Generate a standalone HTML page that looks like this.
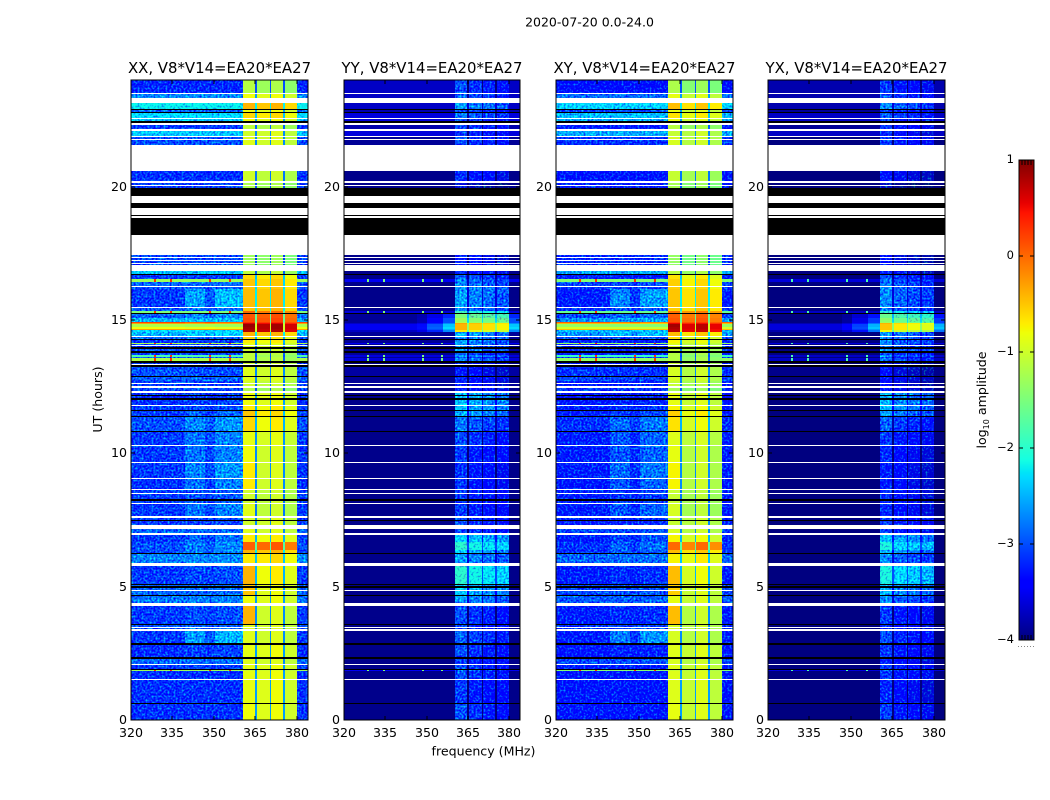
<!DOCTYPE html>
<html>
<head>
<meta charset="utf-8">
<title>2020-07-20 0.0-24.0</title>
<style>
html,body{margin:0;padding:0;background:#fff;}
svg{display:block;}
text{font-family:"DejaVu Sans","Liberation Sans",sans-serif;fill:#000;}
</style>
</head>
<body>
<svg id="fig" xmlns="http://www.w3.org/2000/svg" width="1050" height="800" viewBox="0 0 1050 800">
<defs>
<filter id="speckle" x="0" y="0" width="100%" height="100%" color-interpolation-filters="sRGB">
<feTurbulence type="fractalNoise" baseFrequency="0.5" numOctaves="1" seed="4" result="raw"/>
<feColorMatrix in="raw" type="matrix" values="0 0 0 0 0.5  0 0 0 1.7 -0.35  0 0 0 0 0.5  0 0 0 0 1" result="grain"/>
<feComposite in="SourceGraphic" in2="grain" operator="arithmetic" k1="0" k2="1" k3="1" k4="-0.5" result="mixed"/>
<feComposite in="mixed" in2="SourceAlpha" operator="in"/>
</filter>
</defs>
<rect x="0" y="0" width="1050" height="800" fill="#fff"/>
<text x="589.5" y="26.5" font-size="12.5" text-anchor="middle">2020-07-20 0.0-24.0</text>
<text x="483.5" y="755.5" font-size="12.6" text-anchor="middle">frequency (MHz)</text>
<text x="102" y="399.5" font-size="12.6" text-anchor="middle" transform="rotate(-90 102 399.5)">UT (hours)</text>
<text x="986" y="400" font-size="12.6" text-anchor="middle" transform="rotate(-90 986 400)">log<tspan font-size="8" dy="3">10</tspan><tspan dy="-3"> amplitude</tspan></text>
<g id="panels"></g>
<g id="cbar"></g>
</svg>
<script>
// ---- chart data (UT band upper edges in hours, levels in log10 amplitude) ----
const bandTops = [
0.60,0.64,1.49,1.54,1.71,1.74,1.82,1.89,1.93,2.06,
2.11,2.29,2.35,2.82,2.87,3.33,3.40,3.45,3.49,3.55,
3.59,4.28,4.38,4.65,4.69,4.84,4.88,4.96,5.03,5.06,
5.10,5.78,5.90,6.23,6.25,6.38,6.68,6.94,7.03,7.18,
7.31,7.45,7.50,7.56,7.65,8.11,8.15,8.22,8.28,8.48,
8.51,8.63,8.66,9.04,9.08,9.64,9.68,10.28,10.31,10.80,
10.84,11.36,11.40,11.59,11.63,11.78,11.81,12.00,12.08,12.15,
12.19,12.25,12.34,12.45,12.53,12.60,12.65,12.71,12.86,12.90,
13.25,13.31,13.35,13.40,13.47,13.56,13.62,13.69,13.76,13.84,
13.90,13.97,14.03,14.05,14.10,14.15,14.25,14.29,14.35,14.40,
14.55,14.63,14.66,14.75,14.85,14.90,14.94,15.06,15.21,15.25,
15.34,15.44,15.50,16.15,16.18,16.22,16.27,16.43,16.52,16.69,
16.73,16.83,17.05,17.10,17.15,17.20,17.26,17.33,17.37,17.44,
18.20,18.83,18.89,18.93,19.20,19.40,19.66,19.95,20.03,20.07,
20.14,20.21,20.58,21.57,21.74,21.79,21.85,21.90,22.10,22.15,
22.33,22.37,22.47,22.52,22.56,22.76,22.80,22.86,22.91,23.12,
23.32,23.47,23.53,24.00];
const bandKinds = [
"dkdwdwddkd",
"wdkdkdwdwd",
"kdwdkdwdkd",
"kdwdkdddwd",
"wdkdwdwdkd",
"wdwdwdwdwd",
"kdkdkdwdkd",
"kdwdwdwddk",
"dkwdkddddk",
"dkdwdddkdw",
"dddddddddk",
"ddwdwdwddd",
"kdwdwdwdwd",
"wkwkwkwkdw",
"dwdwdwdwdw",
"dwkdwdkdkd",
"wdwd"].join("");
// levels below are listed only for the data bands, bottom to top
const xxOut = [
-3.15,-3.15,-3.15,-3.15,-1.3,-3.1,-2.9,-3.15,-3.1,-3.0,
-3.0,-3.1,-2.8,-2.9,-2.9,-2.9,-3.1,-2.75,-3.0,-3.0,
-3.1,-2.9,-3.1,-3.1,-3.1,-3.1,-3.1,-3.1,-3.15,-3.1,
-3.1,-3.1,-3.0,-3.1,-3.1,-3.15,-3.2,-3.2,-3.0,-3.1,
-3.1,-2.9,-3.0,-3.1,-1.2,-2.9,-1.8,-3.1,-3.0,-3.1,
-3.1,-1.2,-3.1,-2.9,-2.5,-2.3,-0.3,-0.8,-1.2,-0.3,
0.2,-2.5,-2.9,-1.5,-3.0,-3.1,-3.0,-2.9,-1.3,-3.1,
-2.4,-3.05,-3.05,-3.05,-3.05,-3.1,-3.1,-3.15,-3.0,-3.0,
-2.4,-3.1,-2.4,-2.3,-2.9,-2.2,-2.7,-3.2];
const xxBump = [
-3.15,-3.15,-3.15,-3.15,-1.3,-3.1,-2.85,-3.05,-2.5,-2.9,
-2.9,-3.0,-2.75,-2.85,-2.85,-2.85,-3.0,-2.7,-2.75,-2.7,
-2.85,-2.85,-3.05,-3.05,-2.75,-2.95,-2.95,-2.95,-2.75,-2.65,
-2.75,-2.75,-2.65,-2.9,-3.0,-3.05,-3.1,-3.1,-3.0,-3.1,
-3.1,-2.9,-3.0,-3.1,-1.2,-2.9,-1.8,-3.1,-3.0,-3.1,
-3.1,-1.2,-3.1,-2.9,-2.3,-2.3,-0.3,-0.9,-1.3,-0.4,
0.0,-2.4,-2.7,-1.5,-2.85,-2.45,-2.95,-2.85,-1.3,-3.1,
-2.4,-3.05,-3.05,-3.05,-3.05,-3.1,-3.1,-3.15,-3.0,-3.0,
-2.4,-3.1,-2.4,-2.3,-2.9,-2.2,-2.7,-3.2];
const xxSubbandA = [
-0.8,-0.85,-0.85,-0.85,-1.0,-0.85,-0.9,-0.85,-0.9,-0.9,
-0.9,-0.4,-0.8,-0.5,-0.5,-0.5,-0.4,-0.7,-0.4,0.05,
-0.7,-0.9,-1.0,-1.0,-0.9,-1.0,-1.0,-1.0,-0.7,-0.7,
-0.8,-0.85,-0.6,-0.5,-0.7,-0.8,-0.8,-0.8,-1.2,-1.0,
-1.0,-0.9,-0.9,-1.0,-1.1,-1.1,-1.1,-1.1,-1.0,-0.9,
-0.9,-0.8,-0.7,-0.6,-0.4,0.8,0.8,0.85,0.9,0.6,
0.3,0.15,0.1,0.0,-0.5,-0.45,-0.5,-0.5,-0.5,-0.6,
-1.1,-1.3,-1.3,-1.3,-1.3,-1.2,-1.2,-1.0,-0.9,-0.9,
-1.0,-1.1,-0.8,-0.6,-0.8,-0.4,-0.8,-1.15];
const xxSubbandRest = [
-0.9,-0.9,-0.9,-0.9,-1.0,-0.9,-1.0,-0.9,-1.0,-1.0,
-1.0,-1.0,-0.9,-0.9,-0.9,-0.9,-0.8,-0.7,-0.5,0.0,
-0.8,-1.0,-1.0,-1.0,-1.1,-1.1,-1.1,-1.1,-1.0,-1.0,
-1.0,-0.95,-0.8,-0.7,-0.8,-0.9,-0.9,-0.9,-1.3,-1.1,
-1.1,-1.0,-1.0,-1.1,-1.2,-1.2,-1.3,-1.2,-1.1,-1.0,
-1.0,-0.9,-0.8,-0.8,-0.5,0.7,0.7,0.75,0.75,0.5,
0.25,0.1,0.05,-0.1,-0.5,-0.5,-0.6,-0.6,-0.6,-0.7,
-1.2,-1.4,-1.4,-1.4,-1.4,-1.3,-1.3,-1.1,-1.0,-1.0,
-1.0,-1.2,-0.9,-0.7,-0.9,-0.5,-0.9,-1.3];
const yyOut = [
-3.95,-3.95,-3.95,-3.95,-3.5,-3.95,-3.95,-3.95,-3.95,-3.95,
-3.95,-3.95,-3.95,-3.95,-3.95,-3.95,-3.95,-3.95,-3.95,-3.95,
-3.95,-3.95,-3.95,-3.95,-3.95,-3.95,-3.95,-3.95,-3.95,-3.95,
-3.95,-3.95,-3.95,-3.95,-3.95,-3.95,-3.95,-3.95,-3.95,-3.9,
-3.9,-3.9,-3.85,-3.9,-3.6,-3.9,-3.6,-3.9,-3.9,-3.9,
-3.9,-3.5,-3.9,-3.9,-3.9,-3.7,-3.5,-3.5,-3.5,-3.7,
-3.9,-3.9,-3.9,-3.6,-3.95,-3.95,-3.95,-3.95,-3.5,-3.95,
-3.95,-3.95,-3.95,-3.95,-3.95,-3.95,-3.95,-3.95,-3.9,-3.9,
-3.6,-3.8,-3.6,-3.6,-3.8,-3.7,-3.7,-3.7];
const yyBump = [
-3.95,-3.95,-3.95,-3.95,-3.5,-3.95,-3.95,-3.95,-3.95,-3.95,
-3.95,-3.95,-3.95,-3.95,-3.95,-3.95,-3.95,-3.95,-3.95,-3.95,
-3.95,-3.95,-3.95,-3.95,-3.95,-3.95,-3.95,-3.95,-3.95,-3.95,
-3.95,-3.95,-3.95,-3.95,-3.95,-3.95,-3.95,-3.95,-3.95,-3.9,
-3.9,-3.9,-3.85,-3.9,-3.6,-3.9,-3.6,-3.9,-3.9,-3.9,
-3.9,-3.5,-3.9,-3.9,-3.9,-2.7,-2.5,-2.3,-2.4,-2.7,
-3.0,-3.0,-3.2,-3.6,-3.95,-3.95,-3.95,-3.95,-3.5,-3.95,
-3.95,-3.95,-3.95,-3.95,-3.95,-3.95,-3.95,-3.95,-3.9,-3.9,
-3.6,-3.8,-3.6,-3.6,-3.8,-3.7,-3.7,-3.7];
const yySubband = [
-3.0,-3.1,-3.0,-3.0,-2.8,-3.0,-3.1,-3.0,-2.9,-3.1,
-3.1,-3.0,-2.6,-2.4,-2.4,-2.4,-2.0,-2.6,-2.4,-2.0,
-2.3,-3.0,-3.0,-3.0,-3.1,-3.1,-3.1,-3.1,-3.15,-3.15,
-3.1,-3.0,-2.8,-2.5,-2.4,-2.4,-2.4,-2.4,-3.2,-3.3,
-3.3,-3.2,-3.3,-3.2,-2.7,-3.0,-2.6,-2.9,-2.6,-2.7,
-2.7,-2.6,-2.6,-2.6,-2.5,-0.7,-0.4,-0.4,-0.4,-0.3,
-1.2,-1.3,-1.5,-1.9,-2.7,-2.6,-2.6,-2.7,-2.7,-2.9,
-3.2,-3.3,-3.3,-3.3,-3.3,-3.6,-3.6,-3.2,-3.0,-3.0,
-3.1,-3.0,-3.0,-2.8,-3.0,-2.6,-2.9,-3.0];
// positions (1-based data band numbers) of the interference rows with narrow red spikes
const spikeBands = [5,45,47,52,64,69];
// frequency channel edges (MHz) and what each channel belongs to
const channelEdges = [320,328.3,329.1,334,334.8,339.5,346.7,348.2,349,350.3,355.3,356.1,360.4,364.8,365.5,370.2,370.6,375,375.7,380,384];
const channelZones = ["L","S","L","S","L","B1","M","S","M","B2","S","B3","A","G","B","G","C","G","D","R"];
const panelTitles = ["XX, V8*V14=EA20*EA27","YY, V8*V14=EA20*EA27","XY, V8*V14=EA20*EA27","YX, V8*V14=EA20*EA27"];
const xTicks = [320,335,350,365,380];
const yTicks = [0,5,10,15,20];
const colorbarTicks = [-4,-3,-2,-1,0,1];

// ---- helpers ----
function jetChannel(t, pts){
  for(let i=1;i<pts.length;i++){
    if(t<=pts[i][0]){
      const a=pts[i-1], b=pts[i];
      return a[1]+(b[1]-a[1])*(t-a[0])/(b[0]-a[0]);
    }
  }
  return pts[pts.length-1][1];
}
function jet(v){
  const t=Math.max(0,Math.min(1,(v+4)/5));
  const r=jetChannel(t,[[0,0],[.35,0],[.66,1],[.89,1],[1,.5]]);
  const g=jetChannel(t,[[0,0],[.125,0],[.375,1],[.64,1],[.91,0],[1,0]]);
  const b=jetChannel(t,[[0,.5],[.11,1],[.34,1],[.65,0],[1,0]]);
  return "rgb("+Math.round(r*255)+","+Math.round(g*255)+","+Math.round(b*255)+")";
}
const NS="http://www.w3.org/2000/svg";
function mk(tag,attrs,parent){
  const el=document.createElementNS(NS,tag);
  for(const k in attrs){el.setAttribute(k,attrs[k]);}
  parent.appendChild(el);
  return el;
}
const plotTop=80, plotBottom=720;
const yScale=h=>plotBottom-(h/24)*(plotBottom-plotTop);
const inBandZones=["A","B","C","D","G"];

const panels=[
 {x0:131,w:177,out:xxOut,bump:xxBump,a:xxSubbandA,rest:xxSubbandRest,gains:[0,0,.1,-.1],gapDrop:-1.7,spike:.3,weights:{L:0,B1:.8,M:.2,B2:1,B3:1,R:0},shift:0,outShift:0,grainInBand:false,name:"xx"},
 {x0:344,w:176,out:yyOut,bump:yyBump,a:yySubband,rest:yySubband,gains:[0,-.15,-.25,-.35],gapDrop:-1.0,spike:-1.5,weights:{L:0,B1:0,M:.15,B2:.5,B3:1,R:1},shift:0,outShift:0,grainInBand:true,name:"yy"},
 {x0:556,w:177,out:xxOut,bump:xxBump,a:xxSubbandA,rest:xxSubbandRest,gains:[0,-.1,.05,-.15],gapDrop:-1.7,spike:.3,weights:{L:0,B1:.8,M:.2,B2:1,B3:1,R:0},shift:-.05,outShift:-.1,grainInBand:false,name:"xy"},
 {x0:768,w:177,out:yyOut,bump:yyBump,a:yySubband,rest:yySubband,gains:[0,-.2,-.3,-.4],gapDrop:-1.0,spike:-1.8,weights:{L:0,B1:0,M:.15,B2:.5,B3:1,R:1},shift:-.1,outShift:0,grainInBand:true,name:"yx"}
];

const panelsRoot=document.getElementById("panels");
panels.forEach(function(p,pi){
  const xScale=f=>p.x0+(f-320)/64*p.w;
  const g=mk("g",{},panelsRoot);
  
  
  const cells=mk("g",{"shape-rendering":"crispEdges"},g);
  
  
  const grainy=mk("g",{filter:"url(#speckle)"},cells);
  
  
  const clean=mk("g",{},cells);
  
  
  let prev=0, d=0;
  bandTops.forEach(function(top,bi){
    const kind=bandKinds[bi];
    const y0=Math.round(yScale(top)), y1=Math.round(yScale(prev));
    const h=Math.max(1,y1-y0);
    prev=top;
    if(kind==="w"){return;}
    if(kind==="k"){
      const bar=mk("rect",{x:p.x0,y:y0,width:p.w,height:h,fill:"#000"},clean);
      
      
      return;
    }
    const isSpike=spikeBands.includes(d+1);
    for(let c=0;c<channelZones.length;c++){
      const z=channelZones[c];
      let v;
      const out=p.out[d]+p.shift+p.outShift, bump=p.bump[d]+p.shift+p.outShift;
      if(z==="A"){v=p.a[d]+p.gains[0]+p.shift;}
      else if(z==="B"){v=p.rest[d]+p.gains[1]+p.shift;}
      else if(z==="C"){v=p.rest[d]+p.gains[2]+p.shift;}
      else if(z==="D"){v=p.rest[d]+p.gains[3]+p.shift;}
      else if(z==="G"){v=p.rest[d]+p.gapDrop;}
      else if(z==="S"){
        const near=(c===7)?"M":(c===10)?"B2":"L";
        const wt=p.weights[near];
        v=isSpike?p.spike:out+(bump-out)*wt;
      }
      else{
        const wt=p.weights[z];
        v=out+(bump-out)*wt;
      }
      const x0=Math.round(xScale(channelEdges[c])), x1=Math.round(xScale(channelEdges[c+1]));
      const inBand=inBandZones.includes(z);
      const useGrain=inBand ? (p.grainInBand && z!=="G" && v<-1.6) : (!p.grainInBand && !isSpike && out<-2);
      const cell=mk("rect",{x:x0,y:y0,width:x1-x0,height:h,fill:jet(v)},useGrain?grainy:clean);
      
      
    }
    d++;
  });
  // frame
  const frame=mk("rect",{x:p.x0,y:plotTop,width:p.w,height:plotBottom-plotTop,fill:"none",stroke:"#000","stroke-width":1,"shape-rendering":"crispEdges"},g);
  
  
  // title
  const title=mk("text",{x:p.x0+p.w/2,y:73,"font-size":"14.9","text-anchor":"middle"},g);
  title.textContent=panelTitles[pi];
  
  
  // x ticks
  xTicks.forEach(function(f){
    const x=Math.round(xScale(f));
    const t1=mk("line",{x1:x,x2:x,y1:plotBottom,y2:plotBottom-4,stroke:"#000","shape-rendering":"crispEdges"},g);
    
    
    const t2=mk("line",{x1:x,x2:x,y1:plotTop,y2:plotTop+4,stroke:"#000","shape-rendering":"crispEdges"},g);
    
    
    const lab=mk("text",{x:x,y:737,"font-size":"12.6","text-anchor":"middle"},g);
    lab.textContent=String(f);
    
    
  });
  // y ticks
  yTicks.forEach(function(h){
    const y=Math.round(yScale(h));
    const t1=mk("line",{x1:p.x0,x2:p.x0+4,y1:y,y2:y,stroke:"#000","shape-rendering":"crispEdges"},g);
    
    
    const t2=mk("line",{x1:p.x0+p.w,x2:p.x0+p.w-4,y1:y,y2:y,stroke:"#000","shape-rendering":"crispEdges"},g);
    
    
    const lab=mk("text",{x:p.x0-4,y:y+4,"font-size":"12.6","text-anchor":"end"},g);
    lab.textContent=String(h);
    
    
  });
});

// ---- colorbar ----
const cbRoot=document.getElementById("cbar");
const cbX=1019, cbW=15, cbTop=160, cbBottom=640;
const cbScale=v=>cbBottom-(v+4)/5*(cbBottom-cbTop);
const cbGrad=mk("g",{"shape-rendering":"crispEdges"},cbRoot);


for(let y=cbTop;y<cbBottom;y++){
  const v=1-(y+.5-cbTop)/(cbBottom-cbTop)*5;
  const s=mk("rect",{x:cbX,y:y,width:cbW,height:1,fill:jet(v)},cbGrad);
  
  
}
const cbFrame=mk("rect",{x:cbX,y:cbTop,width:cbW,height:cbBottom-cbTop,fill:"none",stroke:"#000","shape-rendering":"crispEdges"},cbRoot);


colorbarTicks.forEach(function(v){
  const y=Math.round(cbScale(v));
  const a=mk("line",{x1:cbX,x2:cbX+4,y1:y,y2:y,stroke:"#000","shape-rendering":"crispEdges"},cbRoot);
  
  
  const b=mk("line",{x1:cbX+cbW,x2:cbX+cbW-4,y1:y,y2:y,stroke:"#000","shape-rendering":"crispEdges"},cbRoot);
  
  
  const lab=mk("text",{x:cbX-5,y:y+3,"font-size":"11.5","text-anchor":"end"},cbRoot);
  lab.textContent=(v<0?"\u2212"+Math.abs(v):String(v));
  
  
});
for(let i=1;i<5;i++){
  const x=cbX+i*3;
  [[cbTop,cbTop+5],[cbBottom,cbBottom-5]].forEach(function(pair){
    const m=mk("line",{x1:x,x2:x,y1:pair[0],y2:pair[1],stroke:"#000","shape-rendering":"crispEdges"},cbRoot);
    
    
  });
}
for(let i=0;i<6;i++){
  const dot=mk("rect",{x:cbX-1+i*3,y:646,width:1,height:1,fill:"#888"},cbRoot);
  
  
}
</script>
</body>
</html>
